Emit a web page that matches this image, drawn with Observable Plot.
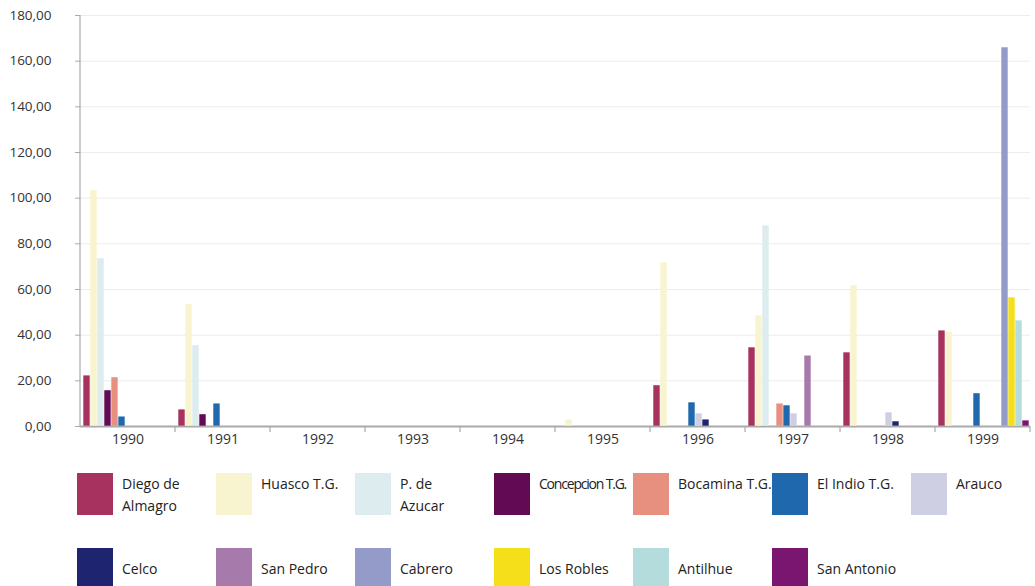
<!DOCTYPE html>
<html><head><meta charset="utf-8">
<script src="https://cdn.jsdelivr.net/npm/d3@7"></script>
<script src="https://cdn.jsdelivr.net/npm/@observablehq/plot@0.6"></script>
<style>
body{margin:0;background:#fff;font-family:"Open Sans",sans-serif;}
#chart{width:1035px;height:455px;}
#legend{position:relative;width:1035px;height:131px;overflow:hidden;}
.item{position:absolute;display:flex;align-items:flex-start;}
.sw{width:36px;height:42px;flex:none;}
.lb{margin-left:9px;font-size:14px;line-height:22px;color:#222;white-space:pre;}
</style></head><body>
<div id="chart"></div><div id="legend"></div>
<script>
const years = ["1990","1991","1992","1993","1994","1995","1996","1997","1998","1999"];
const series = ["Diego de Almagro","Huasco T.G.","P. de Azucar","Concepcion T.G.","Bocamina T.G.","El Indio T.G.","Arauco","Celco","San Pedro","Cabrero","Los Robles","Antilhue","San Antonio"];
const legendText = ["Diego de\nAlmagro","Huasco T.G.","P. de\nAzucar","Concepcion T.G.","Bocamina T.G.","El Indio T.G.","Arauco","Celco","San Pedro","Cabrero","Los Robles","Antilhue","San Antonio"];
const colors = ["#a8325f","#f8f4cf","#dcecef","#630a55","#e8907f","#1f68ad","#cfcfe3","#1e2470","#a67aab","#959bc9","#f5de1a","#b5dcdc","#7b1670"];
const yTicks = [0,20,40,60,80,100,120,140,160,180];

const diegoDeAlmagro = [22.3, 7.4, 0, 0, 0, 0, 18.0, 34.6, 32.4, 42.0];
const huascoTG       = [103.4, 53.5, 0, 0, 0, 3.0, 71.8, 48.6, 61.8, 41.5];
const pDeAzucar      = [73.6, 35.5, 0, 0, 0, 0, 0, 88.0, 0, 0];
const concepcionTG   = [15.8, 5.3, 0, 0, 0, 0, 0, 0, 0, 0];
const bocaminaTG     = [21.5, 0, 0, 0, 0, 0, 0, 10.0, 0, 0];
const elIndioTG      = [4.3, 10.0, 0, 0, 0, 0, 10.5, 9.2, 0, 14.5];
const arauco         = [0, 0, 0, 0, 0, 0, 5.7, 5.7, 6.1, 0];
const celco          = [0, 0, 0, 0, 0, 0, 3.0, 0, 2.2, 0];
const sanPedro       = [0, 0, 0, 0, 0, 0, 0, 31.0, 0, 0];
const cabrero        = [0, 0, 0, 0, 0, 0, 0, 0, 0, 166.0];
const losRobles      = [0, 0, 0, 0, 0, 0, 0, 0, 0, 56.5];
const antilhue       = [0, 0, 0, 0, 0, 0, 0, 0, 0, 46.4];
const sanAntonio     = [0, 0, 0, 0, 0, 0, 0, 0, 0, 2.6];
const values = [diegoDeAlmagro,huascoTG,pDeAzucar,concepcionTG,bocaminaTG,elIndioTG,arauco,celco,sanPedro,cabrero,losRobles,antilhue,sanAntonio];

const data = [];
years.forEach((yr,i)=>series.forEach((s,j)=>data.push({year:yr, series:s, value:values[j][i]})));

const fmt = d => d.toFixed(2).replace(".", ",");

const chart = Plot.plot({
  width:1035, height:455,
  marginLeft:77, marginRight:3, marginTop:15, marginBottom:29,
  style:{fontFamily:"'Open Sans', sans-serif", fontSize:"13.5px", color:"#333", background:"white"},
  fx:{domain:years, padding:0, label:null},
  x:{domain:series, paddingInner:0, paddingOuter:0.2, align:0.7, axis:null},
  y:{domain:[0,180]},
  color:{domain:series, range:colors},
  marks:[
    Plot.gridY(yTicks,{stroke:"#ececec", strokeOpacity:1}),
    Plot.axisY(yTicks,{tickSize:5, tickPadding:24, tickFormat:fmt, label:null, stroke:"#aaa", fill:"#333"}),
    Plot.axisFx({anchor:"bottom", tickSize:0, tickPadding:8, label:null, fill:"#333", fontSize:14}),
    Plot.ruleY([0],{stroke:"#aaa", strokeWidth:2}),
    Plot.barY(data,{fx:"year", x:"series", y:"value", fill:"series", inset:0.3})
  ]
});
document.getElementById("chart").appendChild(chart);

// axis line and band-boundary ticks from the plot's own scales
try {
  const svg = d3.select(chart.tagName.toLowerCase()==="svg" ? chart : chart.querySelector("svg"));
  const fx = chart.scale("fx"), y = chart.scale("y");
  const y0 = y.apply(0), yTop = y.apply(180);
  const x0 = fx.apply(years[0]);
  const g = svg.append("g").attr("stroke","#aaa").attr("stroke-width",1.2);
  g.append("line").attr("x1",x0).attr("x2",x0).attr("y1",yTop).attr("y2",y0);
  years.forEach(yr=>{
    const xb = fx.apply(yr) + fx.bandwidth;
    g.append("line").attr("x1",xb).attr("x2",xb).attr("y1",y0).attr("y2",y0+6);
  });
} catch(e) { console.error(e); }

// legend
const legend = d3.select("#legend");
series.forEach((s,i)=>{
  const row = Math.floor(i/7), col = i%7;
  const item = legend.append("div").attr("class","item")
    .style("left",(77+col*139)+"px").style("top",(18+row*75)+"px");
  item.append("div").attr("class","sw").style("background",colors[i]);
  const lb = item.append("div").attr("class","lb").text(legendText[i]);
  if (row===1) lb.style("margin-top","10px");
  if (s==="Concepcion T.G.") lb.style("letter-spacing","-1.2px");
});
</script>
</body></html>
